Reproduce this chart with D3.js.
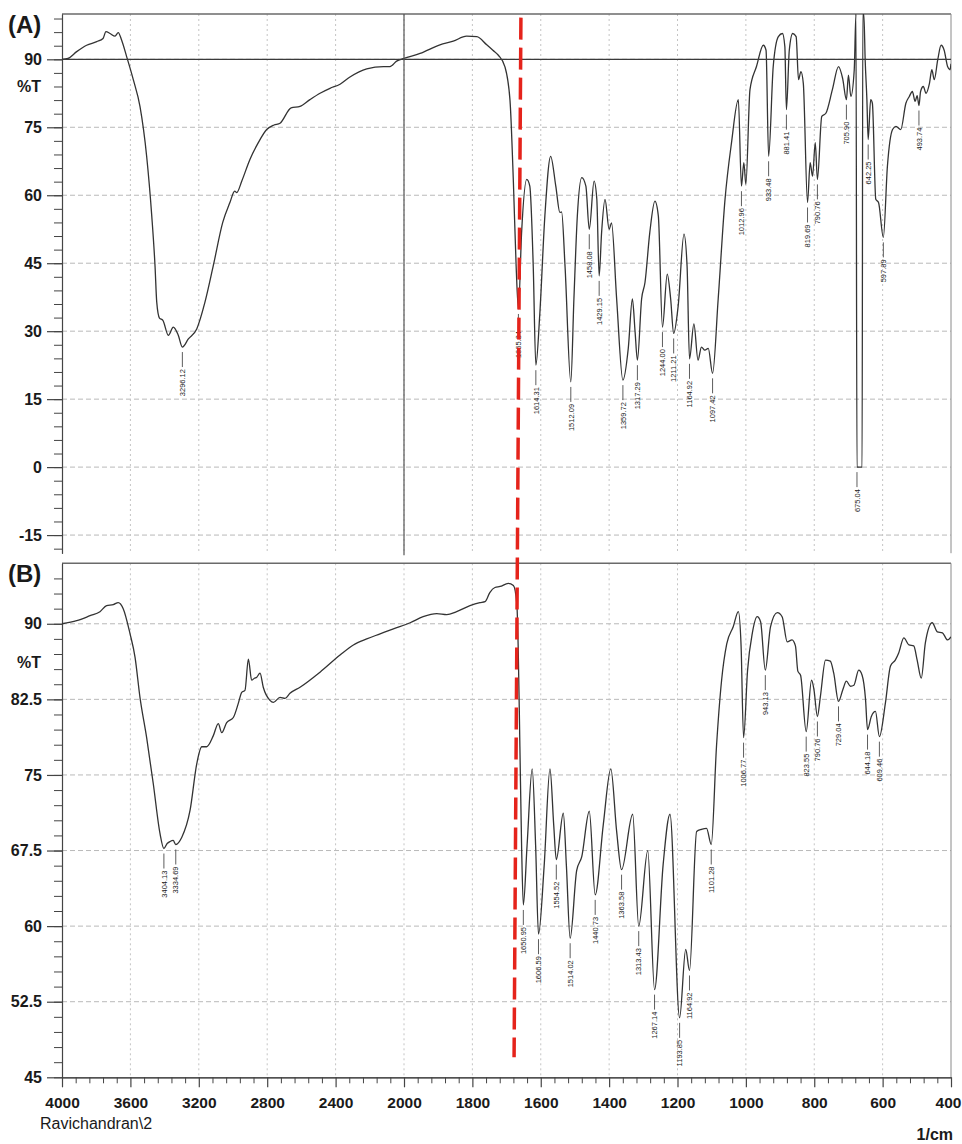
<!DOCTYPE html>
<html>
<head>
<meta charset="utf-8">
<title>FTIR spectra (A) and (B)</title>
<script src="https://d3js.org/d3.v7.min.js"></script>
<style>
body{margin:0;background:#fff;}
svg text{font-family:'Liberation Sans',Arial,sans-serif;fill:#1a1a1a;}
</style>
</head>
<body>
<svg id="chart" width="962" height="1144"></svg>
<script>
// spectrum (A): [wavenumber 1/cm, %T]
var specA = [
 [4000,90],[3965,90.2],[3914,91.7],[3856,93.1],[3797,93.9],[3760,94.6],[3743,96.1],[3719,95.7],[3690,95.1],
 [3671,95.9],[3651,94.2],[3622,90.6],[3583,85.5],[3544,79.6],[3505,68.6],[3475,55.4],[3456,44.4],[3446,36.4],
 [3430,32.9],[3410,32.4],[3378,29.1],[3349,30.9],[3320,29.1],[3296.12,26.5],[3261,28.3],[3212,30.5],[3164,36.4],
 [3115,44.5],[3060,54],[3018,58.4],[2990,60.9],[2978,60.6],[2949,63.1],[2901,67.9],[2852,71.6],[2803,74.5],
 [2760,75.5],[2725,75.9],[2660,79.3],[2608,79.6],[2550,81.1],[2491,82.5],[2433,83.6],[2374,84.5],[2316,86.1],
 [2218,87.9],[2120,88.4],[2082,88.4],[2043,89.6],[2000,90.2],[1953,91.3],[1895,93.2],[1856,94],[1817,95.1],
 [1787,95],[1758,93.2],[1740,92],[1724,90.9],[1705,88.4],[1690,81],[1680,62.8],[1672,44.4],[1665.34,34.9],
 [1656,51.8],[1641,63.5],[1632,62],[1622,44.4],[1614.31,22.5],[1603,33.5],[1588,55.4],[1571,68.6],[1556,62],
 [1544,56.2],[1539,56.3],[1529,44.4],[1512.09,18.8],[1503,37.1],[1493,55.4],[1480,63.9],[1468,62],[1458.08,52.5],
 [1444,63.1],[1436,59.1],[1429.15,42.2],[1422,51.8],[1412,59.1],[1400,52.5],[1393,53.9],[1378,37.1],[1359.72,19.2],
 [1344,26.2],[1332,37.1],[1324,29.8],[1317.29,23.6],[1305,37.1],[1295,40.8],[1281,51.8],[1266,58.7],[1256,55.4],
 [1244,30.9],[1230,42.6],[1220,37.1],[1211.21,29.5],[1198,35.6],[1181,51.4],[1172,44.4],[1164.92,23.9],[1152,31.6],
 [1140,23.6],[1130,26.5],[1120,25.8],[1110,26.2],[1097.42,20.7],[1081,37.1],[1061,59.1],[1042,71.6],[1022,81.1],
 [1012.96,62],[1006,67.2],[1000,62.4],[988,83.3],[969,88.4],[949,93.1],[941,92],[933.48,68.6],[920,88.4],
 [905,95],[893,95.7],[886,92.8],[881.41,78.9],[873,92],[863,95.7],[853,95],[846,85.5],[839,87.3],[832,84.7],
 [819.69,58.4],[812,67.2],[805,64.2],[797,71.6],[790.76,63.5],[778,77.4],[766,78.1],[747,83.3],[729,88.4],
 [717,85.8],[705.9,81.1],[700,86.5],[693,81.8],[683,87.7],[678,100],[675.04,0],[660,0],[658,100],[655,100],
 [651,89.8],[646,81.1],[642.25,72.3],[635,81.1],[630,80.3],[620,59.1],[612,58.4],[597.89,50.7],[586,66.4],
 [571,74.5],[561,75.2],[547,74.5],[532,80.3],[522,81.8],[513,82.9],[505,80.7],[499,82],[493.74,79.8],[489,82.9],
 [481,84],[473,82.5],[463,84.7],[456,87.7],[449,85.5],[439,89.8],[429,93.1],[420,92],[410,88.4],[403,87.7],[400,89]
];

// spectrum (B): [wavenumber 1/cm, %T]
var specB = [
 [4000,90],[3914,90.3],[3836,90.8],[3778,91.2],[3739,91.8],[3700,91.9],[3671,92.1],[3642,91.5],[3602,89],
 [3573,86.7],[3544,82.7],[3505,78.7],[3466,74.1],[3427,69.2],[3404.13,67.7],[3385,68.2],[3368,68.4],[3350,68.5],
 [3334.69,68.1],[3300,68.8],[3251,71.5],[3212,76.1],[3183,77.8],[3154,77.8],[3115,78.9],[3086,80.1],[3066,79.2],
 [3037,80.2],[2998,80.7],[2969,82.1],[2949,83.2],[2930,83.4],[2910,86.5],[2891,84.4],[2875,84.6],[2861,84.7],
 [2842,85.1],[2823,83.7],[2784,82.4],[2764,82.2],[2725,82.7],[2696,82.6],[2667,83.1],[2608,83.7],[2491,85.2],
 [2374,86.9],[2296,87.9],[2218,88.5],[2140,89],[2062,89.5],[1982,90.1],[1944,90.7],[1904,91],[1875,90.9],
 [1846,91.2],[1807,91.8],[1778,92.1],[1763,92.2],[1749,93.1],[1734,93.6],[1719,93.7],[1695,94],[1680,93.8],
 [1670,92],[1666,87.7],[1661,77.8],[1656,67.9],[1650.95,62.1],[1640,68],[1625,75.6],[1615,68],[1606.59,59.2],
 [1590,66],[1573,75.6],[1562,70],[1554.52,66.6],[1534,71.2],[1525,66],[1514.02,58.8],[1495,65.5],[1480,66.9],
 [1458,71.4],[1440.73,63.1],[1417,70.1],[1395,75.6],[1378,69.4],[1363.58,65.6],[1331,71.1],[1313.43,60],
 [1287,67.5],[1267.14,53.7],[1242,66.1],[1222,71.1],[1193.85,50.9],[1176,57.7],[1164.92,55.6],[1144,69.4],
 [1130,69.6],[1115,69.7],[1101.28,68.1],[1086,77.8],[1071,84.4],[1056,88],[1037,89.7],[1022,91.2],[1014,87.8],
 [1006.77,78.7],[995,85.4],[981,89.1],[967,90.7],[957,90.2],[943.13,85.4],[928,89.7],[908,91.1],[894,90.7],
 [879,88.2],[865,88.4],[855,87.8],[848,85.3],[840,84.9],[823.55,79.3],[808,84.4],[801,83.5],[790.76,80.8],
 [782,82.8],[767,86.4],[753,86.3],[743,85.1],[729.04,82.3],[716,83.5],[706,84.3],[694,83.8],[684,83.9],
 [670,85.4],[660,84.9],[650,82.5],[644.18,79.5],[633,80.8],[621,81.3],[609.46,78.8],[592,82.1],[577,85.8],
 [563,86.4],[553,87.1],[538,88.6],[523,87.9],[509,87.8],[499,86.4],[487,84.6],[475,88.1],[455,90.1],
 [440,89.2],[425,89.1],[410,88.4],[400,88.7]
];

// peak labels
var peaksA = ["3296.12","1665.34","1614.31","1512.09","1458.08","1429.15","1359.72","1317.29","1244.00",
  "1211.21","1164.92","1097.42","1012.96","933.48","881.41","819.69","790.76","705.90","675.04","642.25",
  "597.89","493.74"];
var peaksB = ["3404.13","3334.69","1650.95","1606.59","1554.52","1514.02","1440.73","1363.58","1313.43",
  "1267.14","1193.85","1164.92","1101.28","1006.77","943.13","823.55","790.76","729.04","644.18","609.46"];

var xTicks = [4000,3600,3200,2800,2400,2000,1800,1600,1400,1200,1000,800,600,400];
var yTicksA = [90,75,60,45,30,15,0,-15];
var yTicksB = [90,82.5,75,67.5,60,52.5,45];
var yLabelsB = ["90","82.5","75","67.5","60","52.5","45"];

// red dashed marker: from top of (A) to bottom of (B)
var markerTop = [1658, 99.2], markerBottom = [1678, 47];

var svg = d3.select("#chart");
svg.append("rect").attr("width",962).attr("height",1144).attr("fill","#fff");

var L = 62, R = 951;
// abscissa is split at 2000 1/cm like the instrument plot
var x = d3.scaleLinear().domain([4000,2000,400]).range([L,404,R]);
var yA = d3.scaleLinear().domain([-19,100]).range([553.2,14]);
var yB = d3.scaleLinear().domain([45,96]).range([1077.3,563.3]);

var line = function(y){
  return d3.line().x(function(d){return x(d[0]);}).y(function(d){return y(d[1]);}).curve(d3.curveMonotoneX);
};

function interp(spec, wn){
  for (var i=0;i<spec.length-1;i++){
    var a=spec[i], b=spec[i+1];
    if (wn<=a[0] && wn>=b[0]){
      var t=(a[0]-wn)/(a[0]-b[0]);
      return a[1]+t*(b[1]-a[1]);
    }
  }
  return spec[spec.length-1][1];
}

var defs = svg.append("defs");

function panel(id, y, yTicks, yLabels, minorStep, spec, peaks){
  var g = svg.append("g");
  var y0 = y.range()[1], y1 = y.range()[0];
  defs.append("clipPath").attr("id","clip"+id).append("rect")
    .attr("x",L).attr("y",y0).attr("width",R-L).attr("height",y1-y0);

  // grid
  g.selectAll(".hg").data(yTicks.filter(function(v){return y(v)>y0+2 && y(v)<y1-2;}))
    .enter().append("line")
    .attr("x1",L).attr("x2",R).attr("y1",function(v){return y(v);}).attr("y2",function(v){return y(v);})
    .attr("stroke","#b9b9b9").attr("stroke-width",1).attr("stroke-dasharray","5,3");
  g.selectAll(".vg").data(xTicks.slice(1,-1))
    .enter().append("line")
    .attr("x1",function(v){return x(v);}).attr("x2",function(v){return x(v);})
    .attr("y1",y0).attr("y2",y1)
    .attr("stroke","#c4c4c4").attr("stroke-width",1).attr("stroke-dasharray","2,3");

  // frame
  g.append("line").attr("x1",L).attr("x2",R).attr("y1",y0).attr("y2",y0)
    .attr("stroke","#6a6a6a").attr("stroke-width",1.5);
  g.append("line").attr("x1",R).attr("x2",R).attr("y1",y0).attr("y2",y1)
    .attr("stroke","#8a8a8a").attr("stroke-width",1);

  // left axis, major + minor ticks
  var minor = d3.range(Math.ceil(y.domain()[0]/minorStep)*minorStep, y.domain()[1], minorStep);
  g.append("g").attr("transform","translate("+L+",0)")
    .call(d3.axisLeft(y).tickValues(minor).tickSize(8).tickSizeOuter(0).tickFormat(""))
    .call(function(a){ a.selectAll("line,path").attr("stroke","#444"); });
  g.append("g").attr("transform","translate("+L+",0)")
    .call(d3.axisLeft(y).tickValues(yTicks).tickSize(15).tickPadding(5).tickSizeOuter(0)
      .tickFormat(function(d,i){return yLabels[i];}))
    .call(function(a){
      a.selectAll("line,path").attr("stroke","#444").attr("stroke-width",1.2);
      a.selectAll("text").attr("font-size",16).attr("font-weight","bold").attr("fill","#1a1a1a");
    });

  // spectrum
  g.append("path").datum(spec).attr("d",line(y))
    .attr("clip-path","url(#clip"+id+")")
    .attr("fill","none").attr("stroke","#333").attr("stroke-width",1.3);

  // peak labels
  var pk = g.selectAll(".pk").data(peaks).enter().append("g");
  pk.append("line")
    .attr("x1",function(s){return x(+s);}).attr("x2",function(s){return x(+s);})
    .attr("y1",function(s){return y(interp(spec,+s))+5;})
    .attr("y2",function(s){return y(interp(spec,+s))+20;})
    .attr("stroke","#333").attr("stroke-width",0.8);
  pk.append("text")
    .attr("transform",function(s){return "translate("+(x(+s)+2.7)+","+(y(interp(spec,+s))+22)+") rotate(-90)";})
    .attr("text-anchor","end").attr("font-size",7.5).attr("fill","#222")
    .text(function(s){return s;});

  // panel tag
  svg.append("text").attr("x",8).attr("y",y0+19).attr("font-size",24).attr("font-weight","bold").text("("+id+")");
  return g;
}

var gA = panel("A", yA, yTicksA, yTicksA.map(String), 3, specA, peaksA);
var gB = panel("B", yB, yTicksB, yLabelsB, 1.5, specB, peaksB);

// reference lines of panel (A): solid 90 %T and solid 2000 1/cm
gA.append("line").attr("x1",L).attr("x2",R).attr("y1",yA(90)).attr("y2",yA(90))
  .attr("stroke","#3a3a3a").attr("stroke-width",1.3);
gA.append("line").attr("x1",x(2000)).attr("x2",x(2000)).attr("y1",yA(100)).attr("y2",yA(-19)+2)
  .attr("stroke","#555").attr("stroke-width",1.2);

svg.append("text").attr("x",17).attr("y",yA(84)+6).attr("font-size",16).attr("font-weight","bold").text("%T");
svg.append("text").attr("x",17).attr("y",yB(86.2)+6).attr("font-size",16).attr("font-weight","bold").text("%T");

// bottom axis of (B)
var minorX = d3.range(4000,2000,-80).concat(d3.range(2000,400,-40)).filter(function(v){return xTicks.indexOf(v)<0;});
svg.append("g").attr("transform","translate(0,"+yB(45)+")")
  .call(d3.axisBottom(x).tickValues(minorX).tickSize(6).tickSizeOuter(0).tickFormat(""))
  .call(function(a){ a.selectAll("line,path").attr("stroke","#444"); });
svg.append("g").attr("transform","translate(0,"+yB(45)+")")
  .call(d3.axisBottom(x).tickValues(xTicks).tickSize(10).tickPadding(10).tickSizeOuter(0).tickFormat(d3.format("d")))
  .call(function(a){
    a.selectAll("line,path").attr("stroke","#444").attr("stroke-width",1.2);
    a.selectAll("text").attr("font-size",15.5).attr("font-weight","bold").attr("fill","#1a1a1a");
    a.selectAll("text").filter(function(d){return d===400;}).attr("dx",-3);
  });

svg.append("text").attr("x",40).attr("y",1129).attr("font-size",16).text("Ravichandran\\2");
svg.append("text").attr("x",953).attr("y",1140).attr("text-anchor","end").attr("font-size",16).attr("font-weight","bold").text("1/cm");

// red dashed marker spanning both panels
svg.append("line")
  .attr("x1",x(markerTop[0])).attr("y1",yA(markerTop[1]))
  .attr("x2",x(markerBottom[0])).attr("y2",yB(markerBottom[1]))
  .attr("stroke","#e5231b").attr("stroke-width",3.5).attr("stroke-dasharray","22,8");
</script>
</body>
</html>
